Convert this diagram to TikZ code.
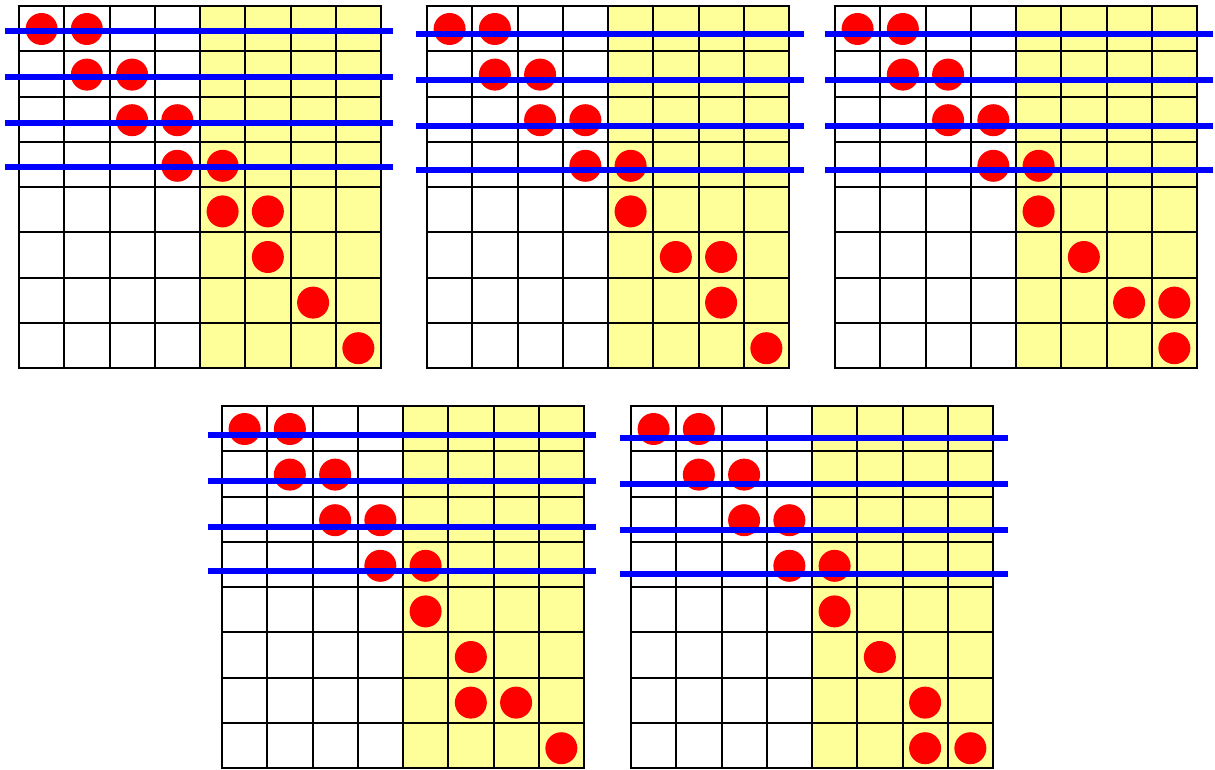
\documentclass[tikz,border=0pt]{standalone}
\usetikzlibrary{positioning}
\definecolor{paleyellow}{RGB}{255,255,153}

% one 8x8 board: name, left, top, cut left, cut top, tokens (row/col)
\newcommand{\board}[6]{%
  \begin{scope}[shift={(#2,#3)}]
    \fill[half] (181,0) rectangle (362,362);
    \foreach \k in {0,...,8}
      \draw[cellgrid] (\k*45.25,0) -- (\k*45.25,362)
                      (0,\k*45.25) -- (362,\k*45.25);
    \foreach \r/\c in {#6}
      \node[token] (#1-\r-\c) at (\c*45.25+22.6,\r*45.6+23) {};
  \end{scope}
  \foreach \dy in {0,46,92,136}
    \draw[cut] (#4,#5+\dy) -- ++(388,0);
}

\begin{document}
\begin{tikzpicture}[
  x=0.75pt, y=-0.75pt,
  cellgrid/.style={draw=black, line width=1.5pt, line cap=rect},
  half/.style={fill=paleyellow},
  token/.style={circle, fill=red, inner sep=0pt, minimum size=24pt},
  cut/.style={draw=blue, line width=4.2pt}
]
\useasboundingbox (0,0) rectangle (1215,769);

% ---------- top row ----------
\board{ba}{19}{6}{5}{30.7}{0/0,0/1,1/1,1/2,2/2,2/3,3/3,3/4,4/4,4/5,5/5,6/6,7/7}
\board{bb}{427}{6}{416}{33.7}{0/0,0/1,1/1,1/2,2/2,2/3,3/3,3/4,4/4,5/5,5/6,6/6,7/7}
\board{bc}{835}{6}{825}{33.7}{0/0,0/1,1/1,1/2,2/2,2/3,3/3,3/4,4/4,5/5,6/6,6/7,7/7}

% ---------- bottom row ----------
\board{bd}{222}{406}{208}{434.7}{0/0,0/1,1/1,1/2,2/2,2/3,3/3,3/4,4/4,5/5,6/5,6/6,7/7}
\board{be}{631}{406}{620}{437.7}{0/0,0/1,1/1,1/2,2/2,2/3,3/3,3/4,4/4,5/5,6/6,7/6,7/7}

\end{tikzpicture}
\end{document}
